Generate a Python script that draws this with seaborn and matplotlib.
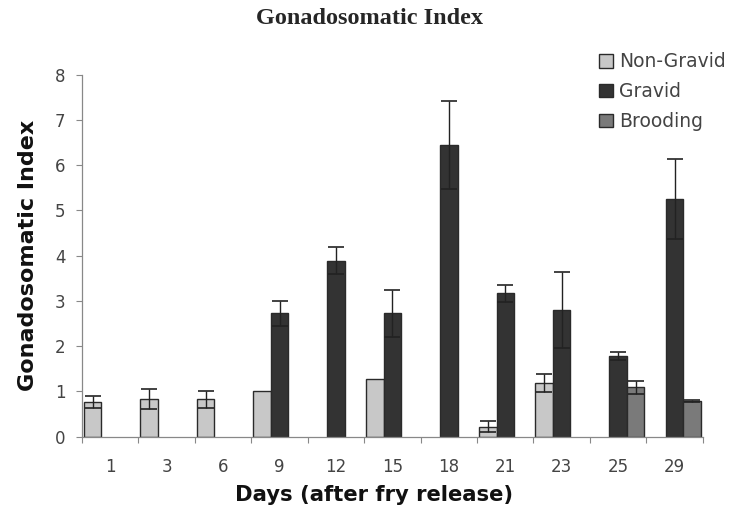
import numpy as np
import pandas as pd
import matplotlib
matplotlib.use("Agg")
import matplotlib.pyplot as plt
import seaborn as sns
from matplotlib.ticker import FixedLocator

days = ["1", "3", "6", "9", "12", "15", "18", "21", "23", "25", "29"]
groups = ["Non-Gravid", "Gravid", "Brooding"]
non_gravid = [0.77, 0.83, 0.83, 1.02, np.nan, 1.27, np.nan, 0.22, 1.18, np.nan, np.nan]
non_gravid_err = [0.14, 0.22, 0.19, 0.0, np.nan, 0.0, np.nan, 0.12, 0.20, np.nan, np.nan]
gravid = [np.nan, np.nan, np.nan, 2.73, 3.89, 2.73, 6.45, 3.17, 2.80, 1.79, 5.26]
gravid_err = [np.nan, np.nan, np.nan, 0.28, 0.30, 0.52, 0.98, 0.19, 0.83, 0.09, 0.88]
brooding = [np.nan, np.nan, np.nan, np.nan, np.nan, np.nan, np.nan, np.nan, np.nan, 1.09, 0.79]
brooding_err = [np.nan, np.nan, np.nan, np.nan, np.nan, np.nan, np.nan, np.nan, np.nan, 0.14, 0.03]

colors = ["#c8c8c8", "#333333", "#7a7a7a"]

rows = []
for g, vals, errs in zip(groups, [non_gravid, gravid, brooding],
                         [non_gravid_err, gravid_err, brooding_err]):
    for d, v, e in zip(days, vals, errs):
        rows.append({"day": d, "group": g, "value": v, "err": e})
df = pd.DataFrame(rows)

sns.set_style("white")
plt.rcParams["font.family"] = ["DejaVu Sans"]

fig = plt.figure(figsize=(7.39, 5.12), dpi=100)
ax = fig.add_axes([0.111, 0.147, 0.840, 0.707])

sns.barplot(data=df.dropna(subset=["value"]), x="day", y="value", hue="group",
            order=days, hue_order=groups, palette=colors, width=0.93,
            edgecolor="#2a2a2a", linewidth=1.0, errorbar=None, ax=ax,
            saturation=1)

# error bars from the drawn bars
for g, cont in zip(groups, ax.containers):
    sub = df[(df.group == g) & df.value.notna()]
    sub = sub.set_index("day").loc[[d for d in days if d in set(sub.day)]]
    for patch, (_, r) in zip(cont.patches, sub.iterrows()):
        if r.err and r.err > 0:
            xc = patch.get_x() + patch.get_width() / 2
            ax.errorbar(xc, patch.get_height(), yerr=r.err, color="#222222",
                        elinewidth=1.0, capsize=5.5, capthick=1.2, zorder=5)

ax.set_ylim(0, 8)
ax.set_xlim(-0.5, len(days) - 0.5)
ax.set_yticks(range(0, 9))
ax.tick_params(axis="y", labelsize=12, length=4, width=0.8, color="#888888",
               direction="out", left=True, pad=8)
ax.tick_params(axis="x", labelsize=12, length=0, pad=15.5)
ax.xaxis.set_minor_locator(FixedLocator(np.arange(-0.5, len(days), 1.0)))
ax.tick_params(axis="x", which="minor", bottom=True, length=4.5, width=0.8,
               color="#888888", direction="out")
for lbl in ax.get_xticklabels() + ax.get_yticklabels():
    lbl.set_color("#444444")

for s in ["top", "right"]:
    ax.spines[s].set_visible(False)
for s in ["left", "bottom"]:
    ax.spines[s].set_color("#888888")
    ax.spines[s].set_linewidth(0.9)

ax.set_xlabel("Days (after fry release)", fontsize=15.2, fontweight="bold",
              color="#111111")
ax.xaxis.set_label_coords(0.47, -0.161)
ax.xaxis.label.set_va("center")
ax.set_ylabel("Gonadosomatic Index", fontsize=16, fontweight="bold",
              color="#111111", labelpad=12)

leg = ax.legend(loc="upper left", bbox_to_anchor=(0.81, 0.898),
                bbox_transform=fig.transFigure, frameon=False,
                fontsize=13.5, handlelength=0.75, handleheight=0.75,
                handletextpad=0.35, labelspacing=0.58, borderpad=0,
                borderaxespad=0)
for t in leg.get_texts():
    t.set_color("#444444")

fig.suptitle("Gonadosomatic Index", y=0.985, fontsize=17.5, fontweight="bold",
             family=["Liberation Serif"])

fig.savefig("out.png", dpi=100)
